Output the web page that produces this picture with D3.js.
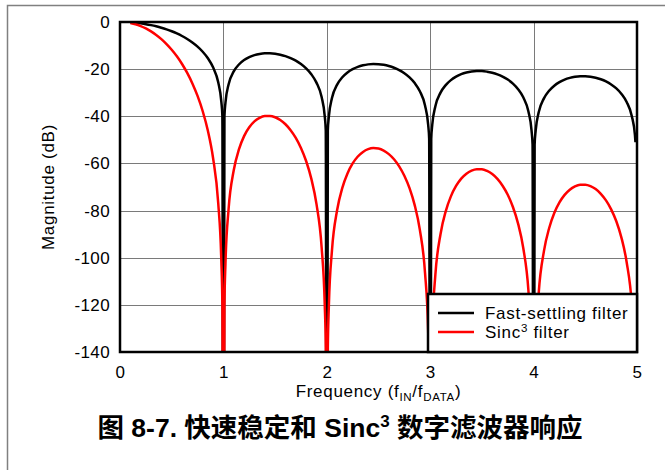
<!DOCTYPE html>
<html lang="zh">
<head>
<meta charset="UTF-8">
<title>Sinc3 response</title>
<style>
  body { margin: 0; background: #fff; }
  svg text { font-family: "Liberation Sans", Arial, sans-serif; }
</style>
</head>
<body>
<script src="https://d3js.org/d3.v7.min.js"></script>
<script>
// frequency points (f_IN / f_DATA)
const freq = [
  0.1, 0.15, 0.2, 0.25, 0.3, 0.35, 0.4, 0.45, 0.5, 0.55, 0.6, 0.65, 0.7, 0.75, 0.8, 0.85, 0.9, 0.95, 0.98, 0.99,
  1.0,
  1.01, 1.02, 1.05, 1.1, 1.15, 1.2, 1.25, 1.3, 1.35, 1.4, 1.45, 1.5, 1.55, 1.6, 1.65, 1.7, 1.75, 1.8, 1.85, 1.9, 1.95, 1.98, 1.99,
  2.0,
  2.01, 2.02, 2.05, 2.1, 2.15, 2.2, 2.25, 2.3, 2.35, 2.4, 2.45, 2.5, 2.55, 2.6, 2.65, 2.7, 2.75, 2.8, 2.85, 2.9, 2.95, 2.98, 2.99,
  3.0,
  3.01, 3.02, 3.05, 3.1, 3.15, 3.2, 3.25, 3.3, 3.35, 3.4, 3.45, 3.5, 3.55, 3.6, 3.65, 3.7, 3.75, 3.8, 3.85, 3.9, 3.95, 3.98, 3.99,
  4.0,
  4.01, 4.02, 4.05, 4.1, 4.15, 4.2, 4.25, 4.3, 4.35, 4.4, 4.45, 4.5, 4.55, 4.6, 4.65, 4.7, 4.75, 4.8, 4.85, 4.9, 4.95, 4.98, 4.985
];

// magnitude in dB, fast-settling filter (black)
const fastSettling = [
  -0.14, -0.32, -0.58, -0.91, -1.33, -1.83, -2.42, -3.12, -3.92, -4.86, -5.94, -7.20, -8.69, -10.45, -12.62, -15.39, -19.23, -25.61, -33.81, -39.91,
  -300,
  -40.09, -34.16, -26.48, -20.97, -18.02, -16.14, -14.89, -14.06, -13.55, -13.30, -13.28, -13.47, -13.86, -14.46, -15.30, -16.39, -17.81, -19.66, -22.15, -25.72, -31.86, -39.92, -45.98,
  -300,
  -46.07, -40.09, -32.29, -26.59, -23.45, -21.41, -20.00, -19.02, -18.37, -17.98, -17.83, -17.90, -18.18, -18.68, -19.41, -20.41, -21.74, -23.50, -25.90, -29.39, -35.45, -43.47, -49.51,
  -300,
  -49.57, -43.59, -35.74, -29.97, -26.77, -24.66, -23.19, -22.15, -21.45, -21.01, -20.81, -20.82, -21.06, -21.51, -22.19, -23.15, -24.43, -26.16, -28.51, -31.96, -37.99, -45.98, -52.02,
  -300,
  -52.06, -46.07, -38.21, -32.40, -29.16, -27.02, -25.52, -24.45, -23.72, -23.25, -23.02, -23.01, -23.21, -23.63, -24.30, -25.23, -26.49, -28.18, -30.52, -33.95, -39.95, -47.93, -51.0
];

// magnitude in dB, Sinc3 filter (red)
const sinc3 = [
  -0.43, -0.97, -1.74, -2.74, -3.98, -5.48, -7.26, -9.35, -11.77, -14.57, -17.83, -21.61, -26.06, -31.36, -37.86, -46.17, -57.68, -76.83, -101.4, -119.7,
  -300,
  -120.3, -102.5, -79.44, -62.91, -54.06, -48.42, -44.67, -42.18, -40.65, -39.90, -39.84, -40.41, -41.58, -43.38, -45.90, -49.17, -53.43, -58.98, -66.45, -77.16, -95.58, -119.8, -137.9,
  -300,
  -138.2, -120.3, -96.87, -79.77, -70.35, -64.23, -60.00, -57.06, -55.11, -53.94, -53.49, -53.70, -54.54, -56.04, -58.23, -61.23, -65.22, -70.50, -77.70, -88.17, -106.4, -130.4, -148.5,
  -300,
  -148.7, -130.8, -107.2, -89.91, -80.31, -73.98, -69.57, -66.45, -64.35, -63.03, -62.43, -62.46, -63.18, -64.53, -66.57, -69.45, -73.29, -78.48, -85.53, -95.88, -114.0, -137.9, -156.1,
  -300,
  -156.2, -138.2, -114.6, -97.20, -87.48, -81.06, -76.56, -73.35, -71.16, -69.75, -69.06, -69.03, -69.63, -70.89, -72.90, -75.69, -79.47, -84.54, -91.56, -101.9, -119.9, -143.8, -152.0
];

const xTicks = [0, 1, 2, 3, 4, 5];
const yTicks = [0, -20, -40, -60, -80, -100, -120, -140];
const seriesNames = ["Fast-settling filter", "Sinc", " filter"];

const w = 665, h = 470;
const plot = {left: 120, right: 637, top: 22, bottom: 352};

const svg = d3.select("body").append("svg")
    .attr("width", w)
    .attr("height", h);

// outer frame
svg.append("path")
    .attr("d", "M7.5," + h + "V5.5H" + w)
    .attr("fill", "none")
    .attr("stroke", "#808080")
    .attr("stroke-width", 1.5);

const x = d3.scaleLinear().domain([0, 5]).range([plot.left, plot.right]);
const y = d3.scaleLinear().domain([0, -140]).range([plot.top, plot.bottom]);

// grid
svg.append("g")
    .selectAll("line")
    .data(yTicks.slice(1, -1))
    .join("line")
    .attr("x1", plot.left).attr("x2", plot.right)
    .attr("y1", d => Math.round(y(d)) + 0.5).attr("y2", d => Math.round(y(d)) + 0.5)
    .attr("stroke", "#7a7a7a").attr("stroke-width", 1);

svg.append("g")
    .selectAll("line")
    .data(xTicks.slice(1, -1))
    .join("line")
    .attr("y1", plot.top).attr("y2", plot.bottom)
    .attr("x1", d => Math.round(x(d)) + 0.5).attr("x2", d => Math.round(x(d)) + 0.5)
    .attr("stroke", "#7a7a7a").attr("stroke-width", 1);

// axes (labels only)
const yAxis = svg.append("g")
    .attr("transform", "translate(" + plot.left + ",0)")
    .call(d3.axisLeft(y).tickValues(yTicks).tickSize(0).tickPadding(10).tickFormat(d => String(d)));
const xAxis = svg.append("g")
    .attr("transform", "translate(0," + plot.bottom + ")")
    .call(d3.axisBottom(x).tickValues(xTicks).tickSize(0).tickPadding(14).tickFormat(d => String(d)));
[yAxis, xAxis].forEach(a => {
    a.select(".domain").remove();
    a.selectAll("text")
        .attr("font-family", "Liberation Sans, Arial, sans-serif")
        .attr("font-size", 17)
        .attr("letter-spacing", 0.4)
        .attr("fill", "#000");
});

// curves
svg.append("clipPath").attr("id", "clip")
    .append("rect")
    .attr("x", plot.left).attr("y", plot.top)
    .attr("width", plot.right - plot.left).attr("height", plot.bottom - plot.top);

const line = d3.line()
    .x(d => x(d[0]))
    .y(d => y(d[1]))
    .curve(d3.curveMonotoneX);

const curves = svg.append("g").attr("clip-path", "url(#clip)");
curves.append("path")
    .datum(freq.map((f, i) => [f, fastSettling[i]]))
    .attr("d", line)
    .attr("fill", "none")
    .attr("stroke", "#000")
    .attr("stroke-width", 2.5);
curves.append("path")
    .datum(freq.map((f, i) => [f, sinc3[i]]))
    .attr("d", line)
    .attr("fill", "none")
    .attr("stroke", "#ff0000")
    .attr("stroke-width", 2.5);

// plot frame
svg.append("rect")
    .attr("x", plot.left).attr("y", plot.top)
    .attr("width", plot.right - plot.left).attr("height", plot.bottom - plot.top)
    .attr("fill", "none")
    .attr("stroke", "#000")
    .attr("stroke-width", 2.5);

// legend
const lg = svg.append("g");
lg.append("rect")
    .attr("x", 428).attr("y", 294)
    .attr("width", plot.right - 428).attr("height", plot.bottom - 294)
    .attr("fill", "#fff")
    .attr("stroke", "#000")
    .attr("stroke-width", 2.5);
lg.append("line").attr("x1", 438).attr("x2", 474).attr("y1", 313).attr("y2", 313)
    .attr("stroke", "#000").attr("stroke-width", 2.5);
lg.append("line").attr("x1", 438).attr("x2", 474).attr("y1", 332).attr("y2", 332)
    .attr("stroke", "#ff0000").attr("stroke-width", 2.5);
lg.append("text").attr("x", 485).attr("y", 319)
    .attr("font-size", 17).attr("letter-spacing", 0.7).text(seriesNames[0]);
const lt = lg.append("text").attr("x", 485).attr("y", 338)
    .attr("font-size", 17).attr("letter-spacing", 0.7);
lt.append("tspan").text(seriesNames[1]);
lt.append("tspan").attr("dy", -6).attr("font-size", 11.5).text("3");
lt.append("tspan").attr("dy", 6).text(seriesNames[2]);

// axis titles
const xt = svg.append("text")
    .attr("x", (plot.left + plot.right) / 2)
    .attr("y", 397)
    .attr("text-anchor", "middle")
    .attr("font-size", 17)
    .attr("letter-spacing", 0.7);
xt.append("tspan").text("Frequency (f");
xt.append("tspan").attr("dy", 4).attr("font-size", 11.5).text("IN");
xt.append("tspan").attr("dy", -4).text("/f");
xt.append("tspan").attr("dy", 4).attr("font-size", 11.5).text("DATA");
xt.append("tspan").attr("dy", -4).text(")");

svg.append("text")
    .attr("transform", "translate(54," + (plot.top + plot.bottom) / 2 + ") rotate(-90)")
    .attr("text-anchor", "middle")
    .attr("font-size", 17)
    .attr("letter-spacing", 0.7)
    .text("Magnitude (dB)");

// figure caption
const cap = svg.append("text")
    .attr("x", 340)
    .attr("y", 437)
    .attr("text-anchor", "middle")
    .attr("font-size", 26.5)
    .attr("font-weight", "bold")
    .style("font-family", "'Liberation Sans', 'Noto Sans CJK SC', sans-serif");
cap.append("tspan").text("图 8-7. 快速稳定和 Sinc");
cap.append("tspan").attr("dy", -10).attr("font-size", 17).text("3");
cap.append("tspan").attr("dy", 10).text(" 数字滤波器响应");
</script>
</body>
</html>
